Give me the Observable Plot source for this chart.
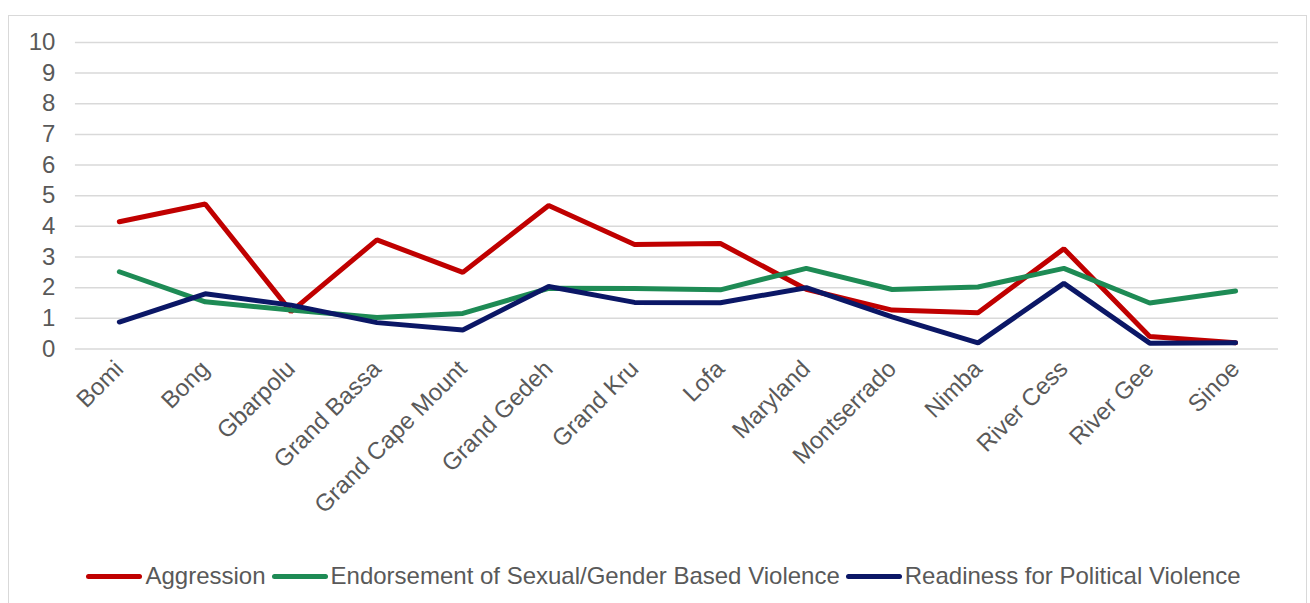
<!DOCTYPE html>
<html>
<head>
<meta charset="utf-8">
<script src="https://cdn.jsdelivr.net/npm/d3@7"></script>
<script src="https://cdn.jsdelivr.net/npm/@observablehq/plot@0.6"></script>
<style>
  html, body { margin: 0; padding: 0; background: #fff; }
  body { width: 1310px; height: 603px; overflow: hidden; position: relative; font-family: "Liberation Sans", Arial, sans-serif; }
  #frame { position: absolute; left: 8px; top: 15px; width: 1299px; height: 600px; border: 1.5px solid #d9d9d9; box-sizing: border-box; }
  #legend { position: absolute; left: 6px; top: 546px; width: 100%; display: flex; justify-content: center; align-items: center; gap: 6px; font-size: 24px; color: #595959; }
  .item { display: flex; align-items: center; }
  .sw { width: 56px; height: 5px; border-radius: 3px; margin-right: 3px; }
</style>
</head>
<body>
<div id="frame"><div id="chart"></div><div id="legend"></div></div>
<script>
const counties = ["Bomi","Bong","Gbarpolu","Grand Bassa","Grand Cape Mount","Grand Gedeh","Grand Kru","Lofa","Maryland","Montserrado","Nimba","River Cess","River Gee","Sinoe"];
const seriesNames = ["Aggression","Endorsement of Sexual/Gender Based Violence","Readiness for Political Violence"];
const aggression = [4.15,4.73,1.22,3.56,2.5,4.68,3.41,3.44,1.95,1.27,1.18,3.27,0.41,0.2];
const endorsement = [2.52,1.54,1.27,1.03,1.16,1.98,1.97,1.93,2.63,1.94,2.02,2.63,1.5,1.89];
const readiness = [0.88,1.8,1.43,0.86,0.62,2.04,1.52,1.51,2.0,1.05,0.2,2.14,0.19,0.2];
const yTicks = [0,1,2,3,4,5,6,7,8,9,10];
const colors = ["#c00000","#1e8b55","#0b1766"];

const all = [aggression, endorsement, readiness];
const data = [];
seriesNames.forEach((s, i) => counties.forEach((c, j) => data.push({series: s, county: c, value: all[i][j]})));

const plot = Plot.plot({
  width: 1299,
  height: 530,
  marginLeft: 66,
  marginRight: 28,
  marginTop: 26,
  marginBottom: 197,
  style: {fontFamily: "Liberation Sans, Arial, sans-serif", fontSize: "24px", color: "#595959", background: "transparent"},
  x: {domain: counties, type: "band", padding: 0, label: null},
  y: {domain: [0, 10], label: null},
  color: {domain: seriesNames, range: colors},
  marks: [
    Plot.ruleY(yTicks, {stroke: "#d9d9d9", strokeWidth: 1.5}),
    Plot.axisY({ticks: yTicks, tickSize: 0, tickPadding: 20, label: null, fontSize: 24}),
    Plot.axisX({tickSize: 0, tickRotate: -45, tickPadding: 16, label: null, fontSize: 24}),
    Plot.line(data, {x: "county", y: "value", z: "series", stroke: "series", strokeWidth: 5, strokeLinejoin: "miter", strokeLinecap: "round"})
  ]
});
document.getElementById("chart").appendChild(plot);

const legend = document.getElementById("legend");
seriesNames.forEach((s, i) => {
  const it = document.createElement("div");
  it.className = "item";
  const sw = document.createElement("div");
  sw.className = "sw";
  sw.style.background = colors[i];
  const t = document.createElement("span");
  t.textContent = s;
  it.appendChild(sw); it.appendChild(t);
  legend.appendChild(it);
});
</script>
</body>
</html>
